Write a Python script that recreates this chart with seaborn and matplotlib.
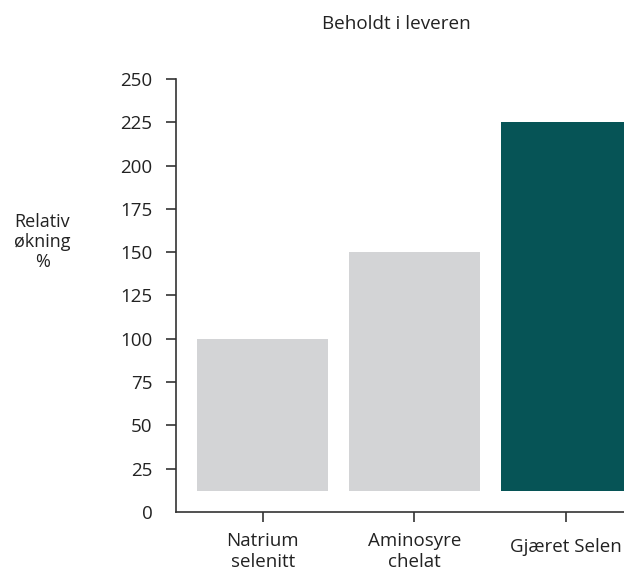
import matplotlib
matplotlib.use("Agg")
import matplotlib.pyplot as plt
import matplotlib.transforms as mtransforms
import seaborn as sns
import pandas as pd

categories = ["Natrium\nselenitt", "Aminosyre\nchelat", "Gjæret Selen"]
values = [100, 150, 225]
bar_base = 12
colors = ["#d3d4d6", "#d3d4d6", "#065456"]
y_ticks = [0, 25, 50, 75, 100, 125, 150, 175, 200, 225, 250]
title = "Beholdt i leveren"
y_label = "Relativ\nøkning\n%"

sns.set_theme(style="white")
plt.rcParams["font.family"] = ["Open Sans", "DejaVu Sans"]

df = pd.DataFrame({
    "kategori": categories,
    "hoyde": [v - bar_base for v in values],
})

fig = plt.figure(figsize=(6.24, 5.71), dpi=100)
ax = fig.add_axes([0.282, 0.1033, 0.771, 0.7584])

sns.barplot(data=df, x="kategori", y="hoyde", hue="kategori", palette=colors,
            legend=False, width=0.864, bottom=bar_base, ax=ax, saturation=1,
            linewidth=0)

ax.set_xlim(-0.572, 2.6)
ax.set_ylim(0, 250)
ax.set_yticks(y_ticks)
ax.set_yticklabels([str(t) for t in y_ticks])
ax.set_xlabel("")
ax.set_ylabel("")

for side in ["top", "right"]:
    ax.spines[side].set_visible(False)
for side in ["left", "bottom"]:
    ax.spines[side].set_color("#333333")
    ax.spines[side].set_linewidth(1.2)

ax.tick_params(axis="both", which="both", direction="out", length=7.5, width=1.2,
               color="#333333", labelcolor="#222222", labelsize=13.5)
ax.tick_params(axis="y", pad=9.5, left=True)
ax.tick_params(axis="x", pad=7, bottom=True)
for lbl in ax.get_xticklabels():
    lbl.set_linespacing(1.2)
# single-line label sits a little lower
shift = mtransforms.ScaledTranslation(0, -4 / 72, fig.dpi_scale_trans)
last = ax.get_xticklabels()[-1]
last.set_transform(last.get_transform() + shift)
# hide tick mark at zero, keep label
ax.yaxis.get_major_ticks()[0].tick1line.set_visible(False)

fig.text(0.636, 0.958, title, ha="center", va="center", fontsize=13.6, color="#222222")
fig.text(0.068, 0.576, y_label, ha="center", va="center", fontsize=13,
         color="#222222", linespacing=1.15)

fig.savefig("out.png", dpi=100)
